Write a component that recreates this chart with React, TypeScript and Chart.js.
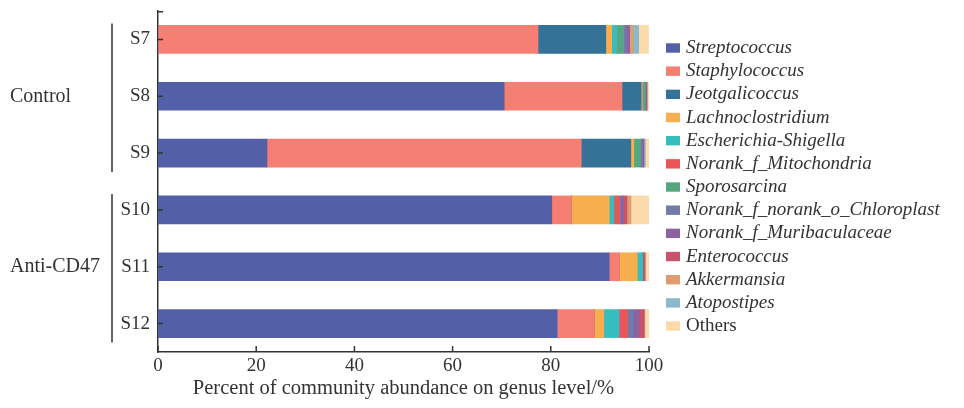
import React, { useEffect, useRef } from "react";
import { Chart, registerables } from "chart.js";

Chart.register(...registerables);

// Samples (bars, top to bottom)
const samples = ["S7", "S8", "S9", "S10", "S11", "S12"];

// Sample groups drawn as brackets at the left
const groupNames = ["Control", "Anti-CD47"];
const groupMembers = [
  ["S7", "S8", "S9"],
  ["S10", "S11", "S12"],
];

// Genus names and colours, in stacking / legend order
const genera = [
  "Streptococcus",
  "Staphylococcus",
  "Jeotgalicoccus",
  "Lachnoclostridium",
  "Escherichia-Shigella",
  "Norank_f_Mitochondria",
  "Sporosarcina",
  "Norank_f_norank_o_Chloroplast",
  "Norank_f_Muribaculaceae",
  "Enterococcus",
  "Akkermansia",
  "Atopostipes",
  "Others",
];
const generaColors = [
  "#5360a8",
  "#f47f72",
  "#347297",
  "#f7ae4e",
  "#35bebd",
  "#eb5458",
  "#55a77f",
  "#7379a9",
  "#8d62a0",
  "#c9526c",
  "#df9c6e",
  "#8cb8cc",
  "#fadba9",
];

// Relative abundance (%) per genus, one value per sample (S7..S12)
const streptococcus = [0, 70.5, 22.2, 80.2, 91.9, 81.3];
const staphylococcus = [77.4, 24.0, 64.0, 4.0, 2.1, 7.6];
const jeotgalicoccus = [13.8, 3.9, 10.1, 0, 0, 0];
const lachnoclostridium = [1.2, 0.2, 0.6, 7.7, 3.6, 1.9];
const escherichiaShigella = [1.1, 0.2, 0, 0.95, 1.1, 3.1];
const mitochondria = [0, 0.1, 0, 1.15, 0, 1.7];
const sporosarcina = [1.3, 0.3, 1.35, 0, 0, 0];
const chloroplast = [0.55, 0.1, 0.35, 0.3, 0, 1.2];
const muribaculaceae = [0.7, 0.2, 0.35, 0.5, 0, 1.2];
const enterococcus = [0, 0.1, 0, 0.7, 0.5, 1.05];
const akkermansia = [0.7, 0, 0, 0.8, 0, 0];
const atopostipes = [1.15, 0, 0.3, 0, 0, 0];
const others = [2.0, 0.4, 0.7, 3.7, 0.8, 0.95];

const seriesValues = [
  streptococcus,
  staphylococcus,
  jeotgalicoccus,
  lachnoclostridium,
  escherichiaShigella,
  mitochondria,
  sporosarcina,
  chloroplast,
  muribaculaceae,
  enterococcus,
  akkermansia,
  atopostipes,
  others,
];

// Axis ticks
const xTickValues = [0, 20, 40, 60, 80, 100];
const xTitle = "Percent of community abundance on genus level/%";

const FONT = "'Liberation Serif', 'Times New Roman', serif";
const INK = "#333333";

const decorations = {
  id: "decorations",
  afterDatasetsDraw(chart: any) {
    const { ctx, chartArea, scales } = chart;
    const xs = scales.x;
    const ys = scales.y;
    ctx.save();
    ctx.strokeStyle = INK;
    ctx.lineWidth = 1.5;

    // inward tick marks on the x axis
    ctx.beginPath();
    xTickValues.forEach((v) => {
      const px = xs.getPixelForValue(v);
      ctx.moveTo(px, chartArea.bottom);
      ctx.lineTo(px, chartArea.bottom - 6);
    });
    // inward tick marks on the y axis and the cap at its top
    samples.forEach((_, i) => {
      const py = ys.getPixelForValue(i);
      ctx.moveTo(chartArea.left, py);
      ctx.lineTo(chartArea.left + 5, py);
    });
    ctx.moveTo(chartArea.left, chartArea.top + 0.75);
    ctx.lineTo(chartArea.left + 5, chartArea.top + 0.75);
    ctx.stroke();
    ctx.restore();
  },
  afterDraw(chart: any) {
    const { ctx, chartArea, scales } = chart;
    const ys = scales.y;
    ctx.save();

    // group brackets and labels
    ctx.strokeStyle = INK;
    ctx.lineWidth = 1.5;
    ctx.fillStyle = INK;
    ctx.font = `20px ${FONT}`;
    ctx.textBaseline = "middle";
    ctx.textAlign = "left";
    const bracketX = 112;
    groupNames.forEach((name, g) => {
      const members = groupMembers[g];
      const first = ys.getPixelForValue(samples.indexOf(members[0]));
      const last = ys.getPixelForValue(samples.indexOf(members[members.length - 1]));
      ctx.beginPath();
      ctx.moveTo(bracketX, first - 16);
      ctx.lineTo(bracketX, last + 19);
      ctx.stroke();
      ctx.fillText(name, 10, (first + last) / 2);
    });

    // legend
    const lx = chartArea.right + 17;
    const top = 48;
    const step = 23.17;
    genera.forEach((name, i) => {
      const cy = top + i * step;
      ctx.fillStyle = generaColors[i];
      ctx.fillRect(lx, cy - 4.7, 14, 9.4);
      ctx.fillStyle = INK;
      ctx.font = name === "Others" ? `19px ${FONT}` : `italic 19px ${FONT}`;
      ctx.fillText(name, lx + 20, cy);
    });
    ctx.restore();
  },
};

export default function App() {
  const canvasRef = useRef<HTMLCanvasElement | null>(null);

  useEffect(() => {
    const canvas = canvasRef.current;
    if (!canvas) return;
    const chart = new Chart(canvas, {
      type: "bar",
      data: {
        labels: samples,
        datasets: genera.map((name, i) => ({
          label: name,
          data: seriesValues[i],
          backgroundColor: generaColors[i],
          borderWidth: 0,
          barThickness: 28,
        })),
      },
      options: {
        indexAxis: "y",
        animation: false,
        responsive: true,
        maintainAspectRatio: false,
        layout: { padding: { left: 0, right: 315, top: 11, bottom: 0 } },
        plugins: {
          legend: { display: false },
          tooltip: { enabled: false },
        },
        scales: {
          x: {
            stacked: true,
            min: 0,
            max: 100,
            grid: { display: false, drawTicks: false },
            border: { display: true, color: INK, width: 1.5 },
            ticks: {
              stepSize: 20,
              padding: 3,
              color: INK,
              font: { family: FONT, size: 19 },
            },
            title: {
              display: true,
              text: xTitle,
              color: INK,
              font: { family: FONT, size: 20.5 },
              padding: { top: 0, bottom: 7 },
            },
            afterFit: (scale: any) => {
              scale.height = 56;
              scale.paddingLeft = 0;
            },
          },
          y: {
            stacked: true,
            grid: { display: false, drawTicks: false },
            border: { display: true, color: INK, width: 1.5 },
            ticks: {
              padding: 8,
              color: INK,
              font: { family: FONT, size: 19 },
            },
            afterFit: (scale: any) => {
              scale.width = 158;
              scale.paddingTop = 0;
              scale.paddingBottom = 0;
            },
          },
        },
      },
      plugins: [decorations],
    });
    return () => chart.destroy();
  }, []);

  return (
    <div style={{ position: "fixed", left: 0, top: 0, width: 964, height: 408, background: "#fff" }}>
      <canvas ref={canvasRef} />
    </div>
  );
}
